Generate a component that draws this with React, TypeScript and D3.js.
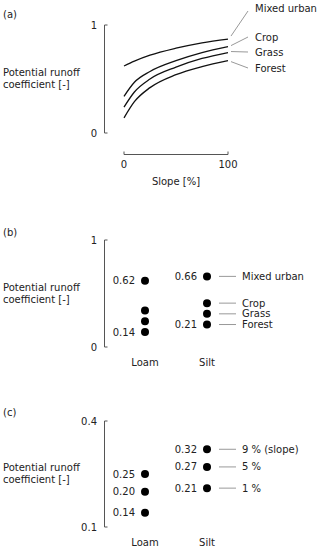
import * as d3 from 'd3'
import { useRef, useEffect } from 'react'

// panel (a): runoff coefficient vs slope
const landUses = ['Mixed urban', 'Crop', 'Grass', 'Forest']
const slopes = [0, 10, 25, 50, 75, 100]
const mixedUrban = [0.62, 0.665, 0.72, 0.785, 0.835, 0.87]
const crop = [0.34, 0.47, 0.57, 0.67, 0.745, 0.8]
const grass = [0.24, 0.38, 0.5, 0.61, 0.69, 0.745]
const forest = [0.14, 0.29, 0.42, 0.54, 0.615, 0.67]
const curveSeries = [mixedUrban, crop, grass, forest]
const slopeTicks = [0, 100]

// panel (b): land use per soil
const soils = ['Loam', 'Silt']
const loamByLandUse = [0.62, 0.34, 0.24, 0.14]
const siltByLandUse = [0.66, 0.41, 0.31, 0.21]
const loamLabelled = [0.62, 0.14]
const siltLabelled = [0.66, 0.21]

// panel (c): slope per soil
const slopeNames = ['9 % (slope)', '5 %', '1 %']
const loamBySlope = [0.25, 0.2, 0.14]
const siltBySlope = [0.32, 0.27, 0.21]

const FONT = '"DejaVu Sans", Verdana, sans-serif'
const TXT = '#222'
const AXIS = '#555'
const LEAD = '#999'

export default function App() {
  const svgRef = useRef(null)

  useEffect(() => {
    const svg = d3.select(svgRef.current)
    svg.selectAll('*').remove()
    svg.attr('font-family', FONT).attr('font-size', 10).attr('fill', TXT)

    const text = (g, x, y, s, anchor = 'start') =>
      g.append('text').attr('x', x).attr('y', y).attr('dy', '0.35em')
        .attr('text-anchor', anchor).text(s)

    const yAxisBracket = (g, y, x0) => {
      const [y0, y1] = y.range()
      g.append('path')
        .attr('d', `M${x0 + 3},${y0}H${x0}V${y1}H${x0 + 3}`)
        .attr('fill', 'none').attr('stroke', AXIS).attr('stroke-width', 1)
    }

    const yLabel = (g, yMid) => {
      text(g, 3, yMid - 6, 'Potential runoff')
      text(g, 3, yMid + 6, 'coefficient [-]')
    }

    // ---------- (a)
    const a = svg.append('g')
    const xA = d3.scaleLinear().domain([0, 100]).range([124, 228])
    const yA = d3.scaleLinear().domain([0, 1]).range([133, 25])
    text(a, 3, 14, '(a)')
    yLabel(a, 78)
    yAxisBracket(a, yA, 104.5)
    yA.domain().forEach(v => text(a, 97, yA(v), String(v), 'end'))
    a.append('path')
      .attr('d', `M${xA(0)},151.5V154.5H${xA(100)}V151.5`)
      .attr('fill', 'none').attr('stroke', AXIS)
    slopeTicks.forEach(v => text(a, xA(v), 164, String(v), 'middle'))
    text(a, (xA(0) + xA(100)) / 2, 181, 'Slope [%]', 'middle')

    const line = d3.line()
      .x(d => xA(d[0]))
      .y(d => yA(d[1]))
      .curve(d3.curveMonotoneX)
    a.selectAll('.curve')
      .data(curveSeries)
      .join('path')
      .attr('class', 'curve')
      .attr('d', s => line(s.map((v, i) => [slopes[i], v])))
      .attr('fill', 'none').attr('stroke', '#111').attr('stroke-width', 1.3)

    const labelYA = [8, 37, 52, 68]
    curveSeries.forEach((s, i) => {
      const yEnd = yA(s[s.length - 1])
      const y0 = i === 0 ? yEnd - 3 : i === 3 ? yEnd + 1 : yEnd - 1
      a.append('line')
        .attr('x1', xA(100) + 3).attr('y1', y0)
        .attr('x2', xA(100) + 20).attr('y2', labelYA[i] + (i === 0 ? 3 : 0))
        .attr('stroke', LEAD).attr('stroke-width', 1)
      text(a, 255, labelYA[i], landUses[i])
    })

    // ---------- (b)
    const b = svg.append('g')
    const xB = d3.scalePoint().domain(soils).range([145, 207])
    const yB = d3.scaleLinear().domain([0, 1]).range([347, 240])
    text(b, 3, 232, '(b)')
    yLabel(b, 293)
    yAxisBracket(b, yB, 104.5)
    yB.domain().forEach(v => text(b, 97, yB(v), String(v), 'end'))
    soils.forEach(s => text(b, xB(s), 362, s, 'middle'))

    const dots = (g, x, vals, y) =>
      g.selectAll(null).data(vals).join('circle')
        .attr('cx', x).attr('cy', d => y(d)).attr('r', 4).attr('fill', '#000')

    dots(b, xB('Loam'), loamByLandUse, yB)
    dots(b, xB('Silt'), siltByLandUse, yB)
    loamLabelled.forEach(v => text(b, xB('Loam') - 10, yB(v), v.toFixed(2), 'end'))
    siltLabelled.forEach(v => text(b, xB('Silt') - 10, yB(v), v.toFixed(2), 'end'))
    siltByLandUse.forEach((v, i) => {
      b.append('line')
        .attr('x1', 219).attr('x2', 236).attr('y1', yB(v)).attr('y2', yB(v))
        .attr('stroke', LEAD)
      text(b, 242, yB(v), landUses[i])
    })

    // ---------- (c)
    const c = svg.append('g')
    const xC = d3.scalePoint().domain(soils).range([145, 207])
    const yC = d3.scaleLinear().domain([0.1, 0.4]).range([527, 421])
    text(c, 3, 412, '(c)')
    yLabel(c, 473)
    yAxisBracket(c, yC, 104.5)
    yC.domain().forEach(v => text(c, 97, yC(v), v.toFixed(1), 'end'))
    soils.forEach(s => text(c, xC(s), 542, s, 'middle'))

    dots(c, xC('Loam'), loamBySlope, yC)
    dots(c, xC('Silt'), siltBySlope, yC)
    loamBySlope.forEach(v => text(c, xC('Loam') - 10, yC(v), v.toFixed(2), 'end'))
    siltBySlope.forEach((v, i) => {
      text(c, xC('Silt') - 10, yC(v), v.toFixed(2), 'end')
      c.append('line')
        .attr('x1', 219).attr('x2', 236).attr('y1', yC(v)).attr('y2', yC(v))
        .attr('stroke', LEAD)
      text(c, 242, yC(v), slopeNames[i])
    })
  }, [])

  return (
    <svg
      ref={svgRef}
      width={320}
      height={549}
      style={{ display: 'block', position: 'absolute', left: 0, top: 0, background: '#fff' }}
    ></svg>
  )
}
